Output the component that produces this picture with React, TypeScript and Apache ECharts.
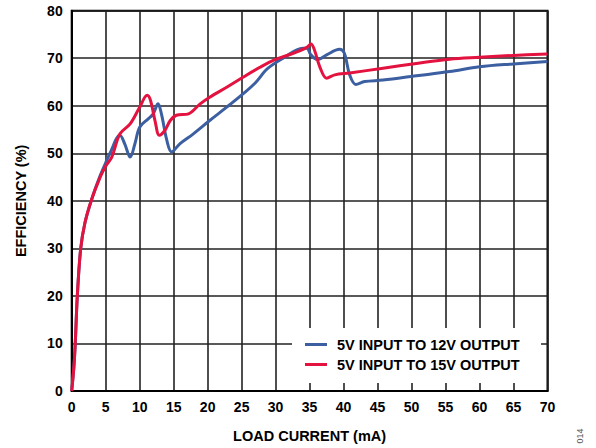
import React, { useEffect, useRef } from "react";
import * as echarts from "echarts";

const xTicks = { min: 0, max: 70, interval: 5 };
const yTicks = { min: 0, max: 80, interval: 10 };

const seriesNames = ["5V INPUT TO 12V OUTPUT", "5V INPUT TO 15V OUTPUT"];

const blueX = [0, 0.34, 0.53, 0.83, 1.32, 1.95, 2.93, 4.16, 5.0, 5.6, 7.1, 7.8, 8.6, 9.3, 10.0, 11.3, 12.0, 12.7, 13.2, 14.0, 14.7, 15.9, 17.9, 20.3, 22.8, 25.2, 27.0, 28.8, 31.1, 34.0, 34.6, 35.2, 36.2, 37.5, 39.4, 40.1, 40.9, 41.8, 43.1, 45.8, 50.7, 55.6, 60, 65, 70];
const blueY = [0, 5.4, 10.3, 20.1, 29.9, 35.4, 40.3, 45.2, 48.0, 49.9, 53.8, 52.0, 49.2, 52.0, 55.5, 57.3, 58.3, 60.4, 58.3, 52.7, 50.3, 52.0, 54.1, 56.9, 59.7, 62.5, 64.8, 67.8, 70.0, 72.1, 72.1, 70.7, 69.7, 70.7, 71.9, 71.1, 66.5, 64.5, 65.1, 65.4, 66.3, 67.2, 68.2, 68.8, 69.3];

const redX = [0, 0.34, 0.53, 0.83, 1.32, 1.95, 2.93, 4.16, 5.0, 5.9, 7.1, 8.6, 10.0, 11.1, 11.6, 12.25, 12.9, 13.7, 14.5, 15.4, 17.2, 18.9, 20.3, 22.8, 25.2, 27.7, 29.9, 32.5, 34.6, 35.2, 35.7, 36.5, 37.5, 38.7, 40.9, 45.8, 50.7, 55.6, 60, 65, 70];
const redY = [0, 5.4, 10.3, 20.1, 29.9, 35.4, 40.3, 44.9, 47.3, 49.2, 54.1, 56.2, 59.7, 62.2, 61.1, 56.9, 53.8, 54.8, 56.9, 58.0, 58.3, 60.4, 61.8, 63.9, 66.0, 68.1, 69.7, 71.0, 72.3, 73.0, 71.8, 68.2, 65.8, 66.5, 66.9, 67.9, 68.9, 69.8, 70.2, 70.6, 70.9];

const colors = ["#3B5FA0", "#E3123F"];
const FONT = "'Liberation Sans', Arial, sans-serif";

export default function App() {
  const ref = useRef<HTMLDivElement>(null);
  useEffect(() => {
    if (!ref.current) return;
    const chart = echarts.init(ref.current, undefined, { renderer: "svg" });
    const zip = (xs: number[], ys: number[]) => xs.map((x, i) => [x, ys[i]]);
    chart.setOption({
      animation: false,
      backgroundColor: "#fff",
      grid: {
        left: 71.7,
        right: 48.5,
        top: 10.7,
        bottom: 55.7,
        show: true,
        borderColor: "#000",
        borderWidth: 2,
        backgroundColor: "transparent",
      },
      xAxis: {
        type: "value",
        min: xTicks.min,
        max: xTicks.max,
        interval: xTicks.interval,
        name: "LOAD CURRENT (mA)",
        nameLocation: "middle",
        nameGap: 37,
        nameTextStyle: { fontFamily: FONT, fontWeight: "bold", fontSize: 14.5, color: "#000" },
        axisLine: { show: true, onZero: false, lineStyle: { color: "#000", width: 2 } },
        axisTick: { show: false },
        axisLabel: { fontFamily: FONT, fontWeight: "bold", fontSize: 14, color: "#000", margin: 9 },
        splitLine: { show: true, lineStyle: { color: "#222", width: 1.6 } },
      },
      yAxis: {
        type: "value",
        min: yTicks.min,
        max: yTicks.max,
        interval: yTicks.interval,
        name: "EFFICIENCY (%)",
        nameLocation: "middle",
        nameGap: 43,
        nameTextStyle: { fontFamily: FONT, fontWeight: "bold", fontSize: 14.5, color: "#000" },
        axisLine: { show: true, onZero: false, lineStyle: { color: "#000", width: 2 } },
        axisTick: { show: false },
        axisLabel: { fontFamily: FONT, fontWeight: "bold", fontSize: 14, color: "#000", margin: 9 },
        splitLine: { show: true, lineStyle: { color: "#222", width: 1.6 } },
      },
      legend: {
        show: true,
        orient: "vertical",
        left: 300,
        top: 332,
        z: 10,
        itemWidth: 22,
        itemHeight: 3,
        itemGap: 5,
        icon: "rect",
        textStyle: { fontFamily: FONT, fontWeight: "bold", fontSize: 14.5, color: "#000", padding: [0, 0, 0, 5] },
        data: seriesNames,
      },
      graphic: [
        {
          type: "rect",
          z: 5,
          shape: { x: 292, y: 328, width: 249, height: 55 },
          style: { fill: "#fff" },
        },
        {
          type: "text",
          x: 580,
          y: 436,
          rotation: Math.PI / 2,
          style: { text: "014", fontFamily: FONT, fontSize: 9, fill: "#555", align: "center", verticalAlign: "middle" },
        },
      ],
      series: [
        {
          name: seriesNames[0],
          type: "line",
          data: zip(blueX, blueY),
          smooth: 0.35,
          showSymbol: false,
          z: 3,
          lineStyle: { color: colors[0], width: 3 },
          itemStyle: { color: colors[0] },
        },
        {
          name: seriesNames[1],
          type: "line",
          data: zip(redX, redY),
          smooth: 0.35,
          showSymbol: false,
          z: 4,
          lineStyle: { color: colors[1], width: 3 },
          itemStyle: { color: colors[1] },
        },
      ],
    });
    return () => chart.dispose();
  }, []);
  return <div ref={ref} style={{ position: "fixed", left: 0, top: 0, width: 596, height: 448 }} />;
}
